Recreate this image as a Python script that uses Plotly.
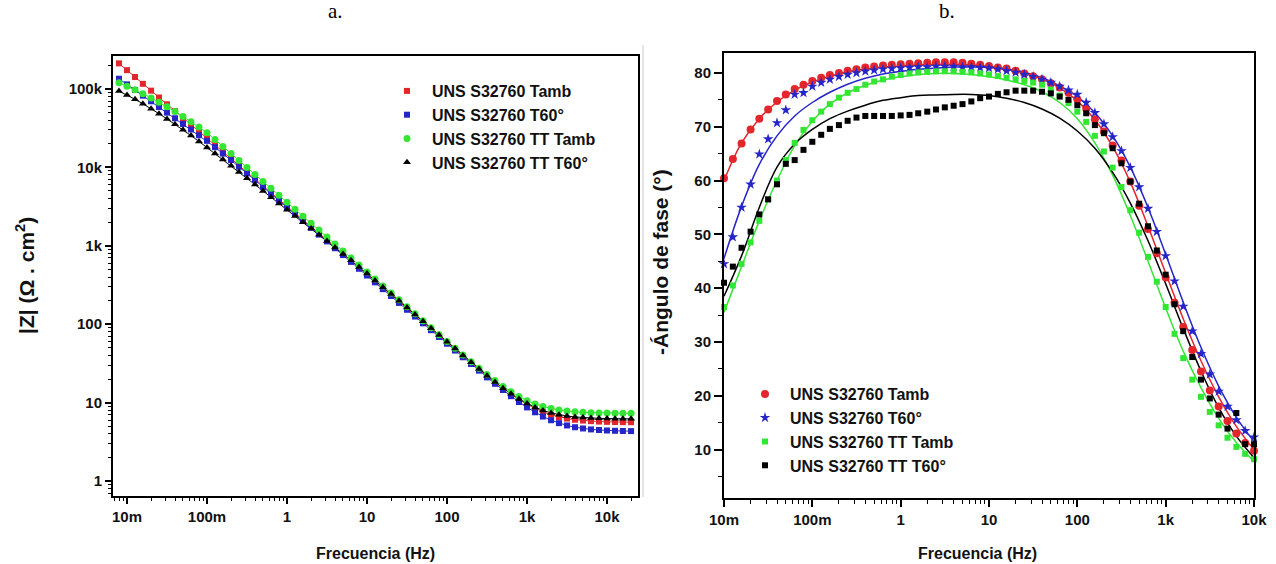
import plotly.graph_objects as go

# ---------------- data ----------------
freq_z = [0.00794, 0.01, 0.0126, 0.0158, 0.02, 0.0251, 0.0316, 0.0398, 0.0501, 0.0631, 0.0794,
          0.1, 0.126, 0.158, 0.2, 0.251, 0.316, 0.398, 0.501, 0.631, 0.794,
          1, 1.26, 1.58, 2, 2.51, 3.16, 3.98, 5.01, 6.31, 7.94,
          10, 12.6, 15.8, 20, 25.1, 31.6, 39.8, 50.1, 63.1, 79.4,
          100, 126, 158, 200, 251, 316, 398, 501, 631, 794,
          1000, 1260, 1580, 2000, 2510, 3160, 3980, 5010, 6310, 7940,
          10000, 12600, 15800, 20000]

z_tamb = [212000, 173500, 142000, 116200, 95100, 77800, 63700, 52100, 42600, 34900, 28600,
          23400, 19100, 15650, 12810, 10480, 8580, 7020, 5740, 4700, 3850,
          3150, 2575, 2107, 1725, 1411, 1155, 945, 773, 633, 518,
          424, 347, 284, 232, 190, 156, 127, 104, 85.5, 70.0,
          57.4, 47.0, 38.6, 31.8, 26.2, 21.6, 18.0, 15.1, 12.8, 10.9,
          9.5, 8.4, 7.6, 7.0, 6.57, 6.27, 6.06, 5.91, 5.81, 5.74,
          5.69, 5.66, 5.64, 5.63]
z_t60 = [135000, 114400, 96900, 82100, 69600, 58900, 49900, 42300, 35800, 30400, 25700,
         21800, 18100, 15000, 12400, 10200, 8380, 6880, 5640, 4620, 3790,
         3100, 2537, 2076, 1699, 1390, 1138, 931, 762, 624, 510,
         418, 342, 280, 229, 187, 153, 125.5, 102.7, 84.0, 68.8,
         56.5, 46.2, 37.9, 31.1, 25.6, 21.0, 17.4, 14.5, 12.1, 10.2,
         8.7, 7.54, 6.65, 5.97, 5.48, 5.12, 4.86, 4.69, 4.56, 4.48,
         4.42, 4.38, 4.35, 4.34]
z_tt_tamb = [120200, 108400, 97300, 86700, 76900, 67800, 59300, 51500, 44600, 38300, 32700,
             27700, 22600, 18400, 15000, 12250, 9980, 8130, 6620, 5410, 4400,
             3590, 2920, 2380, 1940, 1585, 1291, 1052, 857, 698, 569,
             464, 378, 308, 251, 205, 167, 136, 111, 90.3, 73.6,
             60.4, 49.4, 40.5, 33.3, 27.4, 22.8, 19.1, 16.1, 13.8, 12.0,
             10.6, 9.65, 8.93, 8.42, 8.06, 7.82, 7.65, 7.53, 7.46, 7.40,
             7.37, 7.35, 7.33, 7.32]
z_tt_t60 = [94000, 83800, 73800, 64600, 56100, 48400, 41500, 35400, 30100, 25400, 21400,
            17900, 15000, 12560, 10470, 8710, 7240, 6030, 5010, 4170, 3470,
            2880, 2400, 2000, 1660, 1380, 1150, 953, 789, 652, 537,
            442, 362, 297, 243, 199, 163, 133, 109, 89.1, 72.9,
            60.0, 48.9, 39.9, 32.7, 26.8, 22.1, 18.3, 15.3, 13.0, 11.1,
            9.75, 8.70, 7.95, 7.40, 7.02, 6.75, 6.57, 6.45, 6.36, 6.31,
            6.27, 6.25, 6.23, 6.22]

freq_ph = [0.01, 0.0126, 0.0158, 0.02, 0.0251, 0.0316, 0.0398, 0.0501, 0.0631, 0.0794,
           0.1, 0.126, 0.158, 0.2, 0.251, 0.316, 0.398, 0.501, 0.631, 0.794,
           1, 1.26, 1.58, 2, 2.51, 3.16, 3.98, 5.01, 6.31, 7.94,
           10, 12.6, 15.8, 20, 25.1, 31.6, 39.8, 50.1, 63.1, 79.4,
           100, 126, 158, 200, 251, 316, 398, 501, 631, 794,
           1000, 1260, 1580, 2000, 2510, 3160, 3980, 5010, 6310, 7940, 10000]

ph_tamb = [60.4, 64.0, 66.9, 69.5, 71.5, 73.2, 74.8, 76.0, 77.0, 77.8,
           78.5, 79.1, 79.6, 80.0, 80.4, 80.7, 81.0, 81.2, 81.4, 81.5,
           81.6, 81.7, 81.8, 81.9, 82.0, 82.0, 82.0, 81.9, 81.7, 81.5,
           81.3, 81.0, 80.8, 80.4, 79.9, 79.4, 78.8, 78.1, 77.3, 76.3,
           75.1, 73.4, 71.4, 69.1, 66.5, 63.7, 59.8, 55.3, 51.0, 46.5,
           42.0, 37.3, 32.8, 28.5, 24.5, 21.0, 18.0, 15.3, 13.0, 11.2, 9.8]
ph_t60 = [44.5, 49.5, 55.0, 59.3, 64.9, 67.7, 70.7, 73.1, 76.0, 76.3,
          77.5, 78.2, 78.8, 79.3, 79.7, 80.0, 80.3, 80.5, 80.7, 80.8,
          80.9, 81.0, 81.1, 81.1, 81.2, 81.2, 81.2, 81.1, 81.1, 81.0,
          80.9, 80.7, 80.4, 80.1, 79.7, 79.3, 78.8, 78.2, 77.5, 76.8,
          76.0, 74.5, 72.6, 70.5, 68.1, 65.5, 62.4, 58.8, 54.8, 50.5,
          46.0, 41.3, 36.6, 32.0, 27.8, 24.0, 20.8, 18.0, 15.5, 13.5, 12.3]
ph_tt_tamb = [36.5, 40.5, 44.5, 48.5, 52.5, 56.5, 60.0, 63.8, 67.0, 69.4,
              71.2, 72.8, 74.2, 75.4, 76.3, 77.0, 77.8, 78.4, 78.8, 79.3,
              79.6, 79.9, 80.1, 80.2, 80.3, 80.3, 80.3, 80.2, 80.1, 79.9,
              79.7, 79.4, 79.1, 78.8, 78.5, 78.2, 77.8, 76.9, 75.8, 74.4,
              72.8, 70.9, 68.3, 65.4, 62.4, 58.8, 54.5, 50.3, 45.8, 41.2,
              36.5, 31.5, 27.0, 23.0, 19.8, 17.0, 14.5, 12.2, 10.5, 9.2, 8.2]
ph_tt_t60 = [41.0, 44.0, 47.5, 50.5, 53.7, 56.5, 59.3, 63.1, 63.8, 65.7,
             67.2, 68.5, 69.6, 70.3, 71.1, 71.7, 72.0, 72.0, 72.0, 72.0,
             72.1, 72.2, 72.5, 72.8, 73.2, 73.6, 73.9, 74.2, 74.7, 75.3,
             75.6, 76.1, 76.4, 76.7, 76.7, 76.7, 76.5, 76.2, 75.6, 75.0,
             74.0, 72.5, 70.3, 68.8, 66.0, 63.2, 59.8, 55.7, 51.5, 47.0,
             42.5, 37.0, 32.0, 27.2, 23.0, 19.5, 16.5, 13.9, 16.8, 11.0, 11.0]

freq_fit = [0.01, 0.0158, 0.0251, 0.0398, 0.0631, 0.1, 0.158, 0.251, 0.398, 0.631,
            1, 1.58, 2.51, 3.98, 6.31, 10, 15.8, 25.1, 39.8, 63.1,
            100, 158, 251, 398, 631, 1000, 1580, 2510, 3980, 6310, 10000]
fit_tamb = [60.0, 67.0, 71.5, 74.6, 76.8, 78.3, 79.4, 80.2, 80.7, 81.1,
            81.3, 81.5, 81.6, 81.6, 81.5, 81.2, 80.7, 80.0, 78.9, 77.2,
            74.8, 71.3, 66.3, 59.7, 51.5, 42.8, 34.3, 26.5, 19.8, 14.3, 10.0]
fit_t60 = [45.5, 55.2, 63.0, 68.3, 72.0, 74.5, 76.4, 77.9, 79.0, 79.8,
           80.3, 80.7, 80.9, 81.1, 81.1, 81.0, 80.7, 80.1, 79.1, 77.6,
           75.6, 72.6, 68.3, 62.5, 55.0, 46.3, 37.4, 29.0, 21.8, 16.0, 11.5]
fit_tt_tamb = [35.5, 44.0, 52.5, 60.0, 66.5, 71.0, 74.2, 76.3, 77.7, 78.7,
               79.3, 79.7, 79.9, 79.9, 79.7, 79.3, 78.7, 77.8, 76.5, 74.5,
               71.5, 67.0, 61.0, 53.5, 45.0, 36.3, 28.3, 21.5, 15.8, 11.3, 7.8]
fit_tt_t60 = [38.5, 46.0, 55.0, 62.5, 66.8, 69.5, 71.5, 72.9, 74.0, 74.9,
              75.4, 75.8, 75.9, 76.0, 76.0, 75.8, 75.3, 74.5, 73.3, 71.6,
              69.2, 66.0, 61.5, 55.8, 48.8, 40.8, 32.5, 24.6, 17.8, 12.5, 8.5]

names = ["UNS S32760 Tamb", "UNS S32760 T60°", "UNS S32760 TT Tamb", "UNS S32760 TT T60°"]
colors = ["#e3262b", "#2525c8", "#34e634", "#000000"]

z_series = [z_tamb, z_t60, z_tt_tamb, z_tt_t60]
z_symbols = ["square", "square", "circle", "triangle-up"]
z_sizes = [6, 6, 7, 7]

ph_series = [ph_tamb, ph_t60, ph_tt_tamb, ph_tt_t60]
fit_series = [fit_tamb, fit_t60, fit_tt_tamb, fit_tt_t60]
ph_symbols = ["circle", "star", "square", "square"]
ph_sizes = [8, 8, 6, 6]

x_dec = [0.01, 0.1, 1, 10, 100, 1000, 10000]
x_lab = ["10m", "100m", "1", "10", "100", "1k", "10k"]
y_dec_z = [1, 10, 100, 1000, 10000, 100000]
y_lab_z = ["1", "10", "100", "1k", "10k", "100k"]
y_ticks_ph = [10, 20, 30, 40, 50, 60, 70, 80]
y_minor_ph = [5, 15, 25, 35, 45, 55, 65, 75]

# ---------------- figure ----------------
W, H = 1276, 564
FONT = "Arial, 'Liberation Sans', sans-serif"
fig = go.Figure()

for i in range(4):
    fig.add_trace(go.Scatter(x=freq_z, y=z_series[i], mode="lines",
                             line=dict(color=colors[i], width=1), showlegend=False,
                             xaxis="x", yaxis="y", hoverinfo="skip"))
for i in range(4):
    fig.add_trace(go.Scatter(x=freq_z, y=z_series[i], mode="markers", name=names[i],
                             marker=dict(color=colors[i], symbol=z_symbols[i], size=z_sizes[i],
                                         line=dict(width=0)),
                             xaxis="x", yaxis="y", legend="legend"))

for i in range(4):
    fig.add_trace(go.Scatter(x=freq_fit, y=fit_series[i], mode="lines", line_shape="spline",
                             line=dict(color=colors[i], width=1.5), showlegend=False,
                             xaxis="x2", yaxis="y2", hoverinfo="skip"))
for i in range(4):
    fig.add_trace(go.Scatter(x=freq_ph, y=ph_series[i], mode="markers", name=names[i],
                             marker=dict(color=colors[i], symbol=ph_symbols[i], size=ph_sizes[i],
                                         line=dict(width=0)),
                             cliponaxis=False,
                             xaxis="x2", yaxis="y2", legend="legend2"))


def minor_log(lo_exp, hi_exp, lo, hi):
    vals = []
    for e in range(lo_exp, hi_exp + 1):
        for m in range(2, 10):
            v = m * 10 ** e
            if lo <= v <= hi:
                vals.append(v)
    return vals


tickfont = dict(family=FONT, size=15, color="#111", weight="bold")
axis_common = dict(showline=True, linecolor="black", linewidth=2, mirror=True,
                   ticks="outside", tickwidth=1.5, tickcolor="black", automargin=False,
                   showgrid=False, zeroline=False, tickfont=tickfont)
legend_font = dict(family=FONT, size=16, color="#111", weight="bold")

fig.update_layout(
    width=W, height=H,
    margin=dict(l=0, r=0, t=0, b=0, autoexpand=False),
    paper_bgcolor="white", plot_bgcolor="white",
    xaxis=dict(type="log", range=[-2.175, 4.3875], domain=[113 / W, 638 / W], anchor="y",
               tickmode="array", tickvals=x_dec, ticktext=x_lab, ticklen=6,
               minor=dict(ticks="outside", ticklen=3, tickwidth=1.2, tickcolor="black",
                          tickmode="array", tickvals=minor_log(-3, 4, 0.0067, 24000)),
               **axis_common),
    yaxis=dict(type="log", range=[-0.19, 5.42], domain=[1 - 496 / H, 1 - 56 / H], anchor="x",
               tickmode="array", tickvals=y_dec_z, ticktext=y_lab_z, ticklen=6,
               minor=dict(ticks="outside", ticklen=3, tickwidth=1.2, tickcolor="black",
                          tickmode="array", tickvals=minor_log(-1, 5, 0.64, 265000)),
               **axis_common),
    xaxis2=dict(type="log", range=[-2, 4], domain=[724 / W, 1254 / W], anchor="y2",
                tickmode="array", tickvals=x_dec, ticktext=x_lab, ticklen=7,
                minor=dict(ticks="outside", ticklen=4, tickwidth=1.2, tickcolor="black",
                           tickmode="array", tickvals=minor_log(-2, 3, 0.01, 10000)),
                **axis_common),
    yaxis2=dict(range=[1, 83.7], domain=[1 - 498 / H, 1 - 53 / H], anchor="x2",
                tickmode="array", tickvals=y_ticks_ph, ticklen=8,
                minor=dict(ticks="outside", ticklen=4, tickwidth=1.2, tickcolor="black",
                           tickmode="array", tickvals=y_minor_ph),
                **axis_common),
    legend=dict(x=382 / W, y=1 - 74 / H, xanchor="left", yanchor="top",
                bgcolor="rgba(0,0,0,0)", font=legend_font, tracegroupgap=0, itemwidth=40),
    legend2=dict(x=740 / W, y=1 - 377 / H, xanchor="left", yanchor="top",
                 bgcolor="rgba(0,0,0,0)", font=legend_font, tracegroupgap=0, itemwidth=40),
    showlegend=True,
)

title_font = dict(family=FONT, size=16, color="#111", weight="bold")
ytitle_font = dict(family=FONT, size=21, color="#111", weight="bold")
serif = "'Times New Roman', 'Liberation Serif', serif"
annos = [
    dict(text="a.", x=335 / W, y=1 - 11 / H, font=dict(family=serif, size=21, color="black")),
    dict(text="b.", x=947 / W, y=1 - 11 / H, font=dict(family=serif, size=21, color="black")),
    dict(text="Frecuencia (Hz)", x=375 / W, y=1 - 553 / H, font=title_font),
    dict(text="Frecuencia (Hz)", x=978 / W, y=1 - 553 / H, font=title_font),
    dict(text="|Z| (Ω . cm<sup>2</sup>)", x=25 / W, y=1 - 276 / H, textangle=-90, font=ytitle_font),
    dict(text="-Ángulo de fase (°)", x=660 / W, y=1 - 262 / H, textangle=-90, font=ytitle_font),
]
for a in annos:
    fig.add_annotation(xref="paper", yref="paper", showarrow=False,
                       xanchor="center", yanchor="middle", **a)

fig.add_shape(type="line", xref="paper", yref="paper",
              x0=643 / W, x1=643 / W, y0=1 - 45 / H, y1=1 - 497 / H,
              line=dict(color="#c8c8c8", width=1))

fig.write_html("out.html")
